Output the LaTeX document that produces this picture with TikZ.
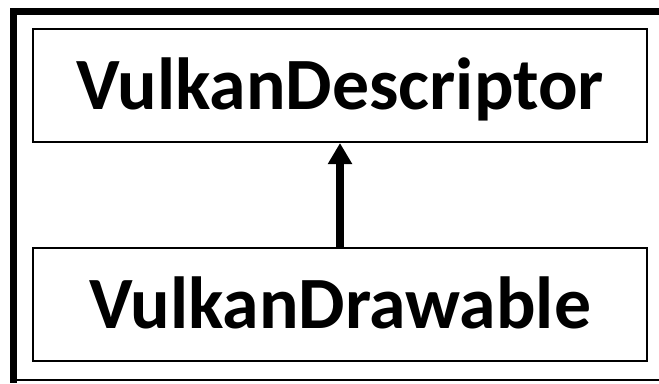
\documentclass[tikz,border=0pt]{standalone}
\usepackage{fontspec}
\setmainfont{Carlito}
\usepackage{tikz}
\usetikzlibrary{positioning,arrows.meta}

\tikzset{
  classbox/.style={draw, line width=0.8pt, minimum width=245.6pt, minimum height=45.2pt,
    inner sep=0pt, text height=19.2pt, text depth=0pt,
    font=\fontsize{29.5}{32}\selectfont\bfseries},
  inherit/.style={line width=3.2pt, -{Triangle[length=8.4pt, width=9.2pt]}}
}

\begin{document}
\begin{tikzpicture}[x=0.4pt, y=-0.4pt]
\useasboundingbox (0,0) rectangle (659,383);
% Outer frame (cut at the right)
\draw[line width=2.8pt] (659,11.5) -- (13.5,11.5) -- (13.5,383);
\draw[line width=0.8pt] (17,380) -- (659,380);

% Classes
\node[classbox] (desc) at (340,85.5) {VulkanDescriptor};
\node[classbox] (drawable) at (340,304) {VulkanDrawable};

% Inheritance
\draw[inherit] (drawable.north) -- (desc.south);
\end{tikzpicture}
\end{document}
